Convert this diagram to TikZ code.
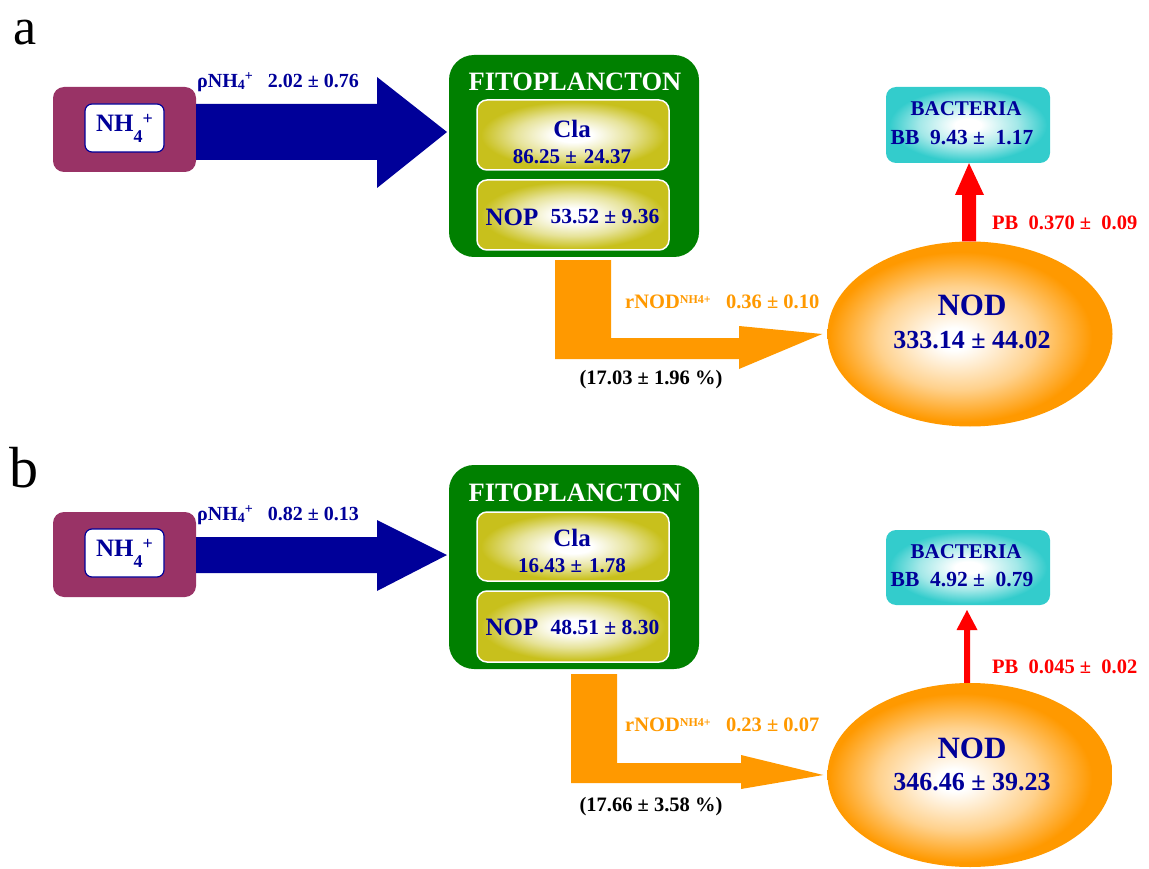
\documentclass[tikz,border=0pt]{standalone}
\usepackage{fontspec}
\setmainfont{Liberation Serif}
\usetikzlibrary{shapes.geometric,calc}
\definecolor{navy}{RGB}{0,0,153}
\definecolor{maroon}{RGB}{153,51,102}
\definecolor{fgreen}{RGB}{0,128,0}
\definecolor{orng}{RGB}{255,153,0}
\definecolor{olv}{RGB}{200,192,28}
\definecolor{cyn}{RGB}{51,204,204}
\pgfdeclareradialshading{claShade}{\pgfpoint{0bp}{0bp}}{color(0bp)=(white); color(5bp)=(white); color(15bp)=(olv!45!white); color(24bp)=(olv); color(50bp)=(olv)}
\pgfdeclareradialshading{bacShade}{\pgfpoint{0bp}{0bp}}{color(0bp)=(white); color(4bp)=(white); color(15bp)=(cyn!45!white); color(24bp)=(cyn); color(50bp)=(cyn)}
\pgfdeclareradialshading{nodShade}{\pgfpoint{-3bp}{-1.5bp}}{color(0bp)=(white); color(3bp)=(white); color(14bp)=(orng!45!white); color(23bp)=(orng); color(50bp)=(orng)}
\newcommand{\fsz}[1]{\fontsize{#1}{#1}\selectfont}
\newcommand{\nhbox}{NH\raisebox{-11pt}{\fsz{18}4}\raisebox{7pt}{\fsz{18}+}}
\newcommand{\nhlab}{\fsz{20}ρNH\raisebox{-2.5pt}{\fsz{14}4}\raisebox{6.5pt}{\fsz{14}+}}
\newcommand{\rnod}{rNOD\raisebox{5.6pt}{\fsz{12}NH4+}}
\tikzset{
  nhout/.style={rectangle, rounded corners=11pt, fill=maroon, minimum width=143pt, minimum height=85pt, inner sep=0pt},
  nhin/.style={rectangle, rounded corners=7pt, fill=white, draw=navy, line width=1.2pt, minimum width=79pt, minimum height=48pt, inner sep=0pt, text=navy, font=\bfseries\fsz{25}},
  fito/.style={rectangle, rounded corners=25pt, fill=fgreen, minimum width=250pt, inner sep=0pt},
  subbox/.style={rectangle, rounded corners=10pt, shade, shading=claShade, draw=white, line width=1.5pt, minimum width=192pt, inner sep=0pt},
  nodell/.style={ellipse, shade, shading=nodShade, minimum width=285pt, minimum height=185pt, inner sep=0pt},
  bacbox/.style={rectangle, rounded corners=10pt, shade, shading=bacShade, minimum width=164pt, inner sep=0pt},
  txt/.style={text=navy, font=\bfseries\fsz{21}, inner sep=0pt},
  bigtxt/.style={text=navy, font=\bfseries\fsz{25}, inner sep=0pt},
  title/.style={text=white, font=\bfseries\fsz{26.5}, inner sep=0pt},
  nodname/.style={text=navy, font=\bfseries\fsz{31}, inner sep=0pt},
  nodval/.style={text=navy, font=\bfseries\fsz{26}, inner sep=0pt},
  olab/.style={text=orng, font=\bfseries\fsz{20.5}, inner sep=0pt, anchor=west},
  blab/.style={text=navy, font=\bfseries\fsz{24}, inner sep=0pt, anchor=west},
  rlab/.style={text=red, font=\bfseries\fsz{20.5}, inner sep=0pt, anchor=west},
  klab/.style={text=black, font=\bfseries\fsz{20.5}, inner sep=0pt},
  panel/.style={text=black, inner sep=0pt, anchor=base}
}
\begin{document}
\begin{tikzpicture}[x=1pt,y=-1pt]
\useasboundingbox (0,0) rectangle (1149,869);
% ================= panel a =================
\node[panel, font=\fsz{52}] (la) at (25,45) {a};
\node[nhout] (nha) at (124.5,129.5) {};
\node[nhin] (nhia) at (124.5,128) {\nhbox};
\node[fito, minimum height=202pt] (fita) at (574,156) {};
\node[title] (fta) at (575,82) {FITOPLANCTON};
\node[subbox, minimum height=70pt] (claa) at (573,135) {};
\node[bigtxt] (clna) at (572,129) {Cla};
\node[txt] (clva) at (572,157) {86.25 ±\,\,24.37};
\node[subbox, minimum height=70pt] (nopa) at (573,215) {};
\node[bigtxt] (nona) at (512,217) {NOP};
\node[txt, font=\bfseries\fsz{21.5}] (nova) at (605,217) {53.52 ± 9.36};
\node[nodell] (noda) at (970,334) {};
\node[nodname] (ndna) at (972,305) {NOD};
\node[nodval] (ndva) at (972,340) {333.14 ± 44.02};
\node[bacbox, minimum height=76pt] (baca) at (968,125) {};
\node[txt] (bcna) at (966,109) {BACTERIA};
\node[txt, font=\bfseries\fsz{21.5}] (bcva) at (962,138) {BB\ \ 9.43 ±\ \ 1.17};
% blue arrow a
\coordinate (tipa) at (447,132);
\fill[navy] (nha.east |- 0,104) -- (377,104) -- (377,77) -- (tipa) -- (377,188) -- (377,160) -- (nha.east |- 0,160) -- cycle;
\node[blab] (rla) at (197,82) {\nhlab\ \ \ 2.02 ± 0.76};
% orange arrow a
\coordinate (otipa) at ([xshift=-5pt]noda.west);
\fill[orng] ([xshift=-19pt,yshift=-3pt]fita.south) -- (611,260) -- (611,338) -- (739,338) -- (739,326) -- (otipa) -- (739,369) -- (739,359) -- (555,359) -- cycle;
\node[olab] (ola) at (625,302) {\rnod\ \ \ 0.36 ± 0.10};
\node[klab] (pca) at (651,380) {(17.03 ± 1.96 \%)};
% red arrow a
\fill[red] (noda.north -| 962,0) -- (962,195) -- (955,195) -- (baca.south -| 969,0) -- (984,195) -- (976,195) -- (noda.north -| 976,0) -- cycle;
\node[rlab] (pba) at (992,223) {PB\ \ 0.370 ±\ \ 0.09};
% ================= panel b =================
\node[panel, font=\fsz{58}] (lb) at (24,487) {b};
\node[nhout] (nhb) at (124.5,554.5) {};
\node[nhin] (nhib) at (124.5,553) {\nhbox};
\node[fito, minimum height=204pt] (fitb) at (574,567) {};
\node[title] (ftb) at (575,493) {FITOPLANCTON};
\node[subbox, minimum height=69pt] (clab) at (573,546.5) {};
\node[bigtxt] (clnb) at (572,538) {Cla};
\node[txt] (clvb) at (572,566) {16.43 ±\,\,1.78};
\node[subbox, minimum height=71pt] (nopb) at (573,626.5) {};
\node[bigtxt] (nonb) at (512,627) {NOP};
\node[txt, font=\bfseries\fsz{21.5}] (novb) at (605,627) {48.51 ± 8.30};
\node[nodell, minimum height=184pt] (nodb) at (970,775) {};
\node[nodname] (ndnb) at (972,748) {NOD};
\node[nodval] (ndvb) at (972,782) {346.46 ± 39.23};
\node[bacbox, minimum height=75pt] (bacb) at (968,567.5) {};
\node[txt] (bcnb) at (966,552) {BACTERIA};
\node[txt, font=\bfseries\fsz{21.5}] (bcvb) at (962,580) {BB\ \ 4.92 ±\ \ 0.79};
% blue arrow b
\coordinate (tipb) at (447,555);
\fill[navy] (nhb.east |- 0,537) -- (377,537) -- (377,520) -- (tipb) -- (377,591) -- (377,573) -- (nhb.east |- 0,573) -- cycle;
\node[blab] (rlb) at (197,515) {\nhlab\ \ \ 0.82 ± 0.13};
% orange arrow b
\coordinate (otipb) at ([xshift=-4pt]nodb.west);
\fill[orng] ([xshift=-3pt,yshift=-5pt]fitb.south) -- (617,674) -- (617,763) -- (741,763) -- (741,755) -- (otipb) -- (741,789) -- (741,783) -- (571,783) -- cycle;
\node[olab] (olb) at (625,725) {\rnod\ \ \ 0.23 ± 0.07};
\node[klab] (pcb) at (651,807) {(17.66 ± 3.58 \%)};
% red arrow b
\fill[red] (nodb.north -| 964,0) -- (964,630) -- (956.5,630) -- (967,610) -- (977.5,630) -- (970,630) -- (nodb.north -| 970,0) -- cycle;
\node[rlab] (pbb) at (992,667) {PB\ \ 0.045 ±\ \ 0.02};
\end{tikzpicture}
\end{document}
